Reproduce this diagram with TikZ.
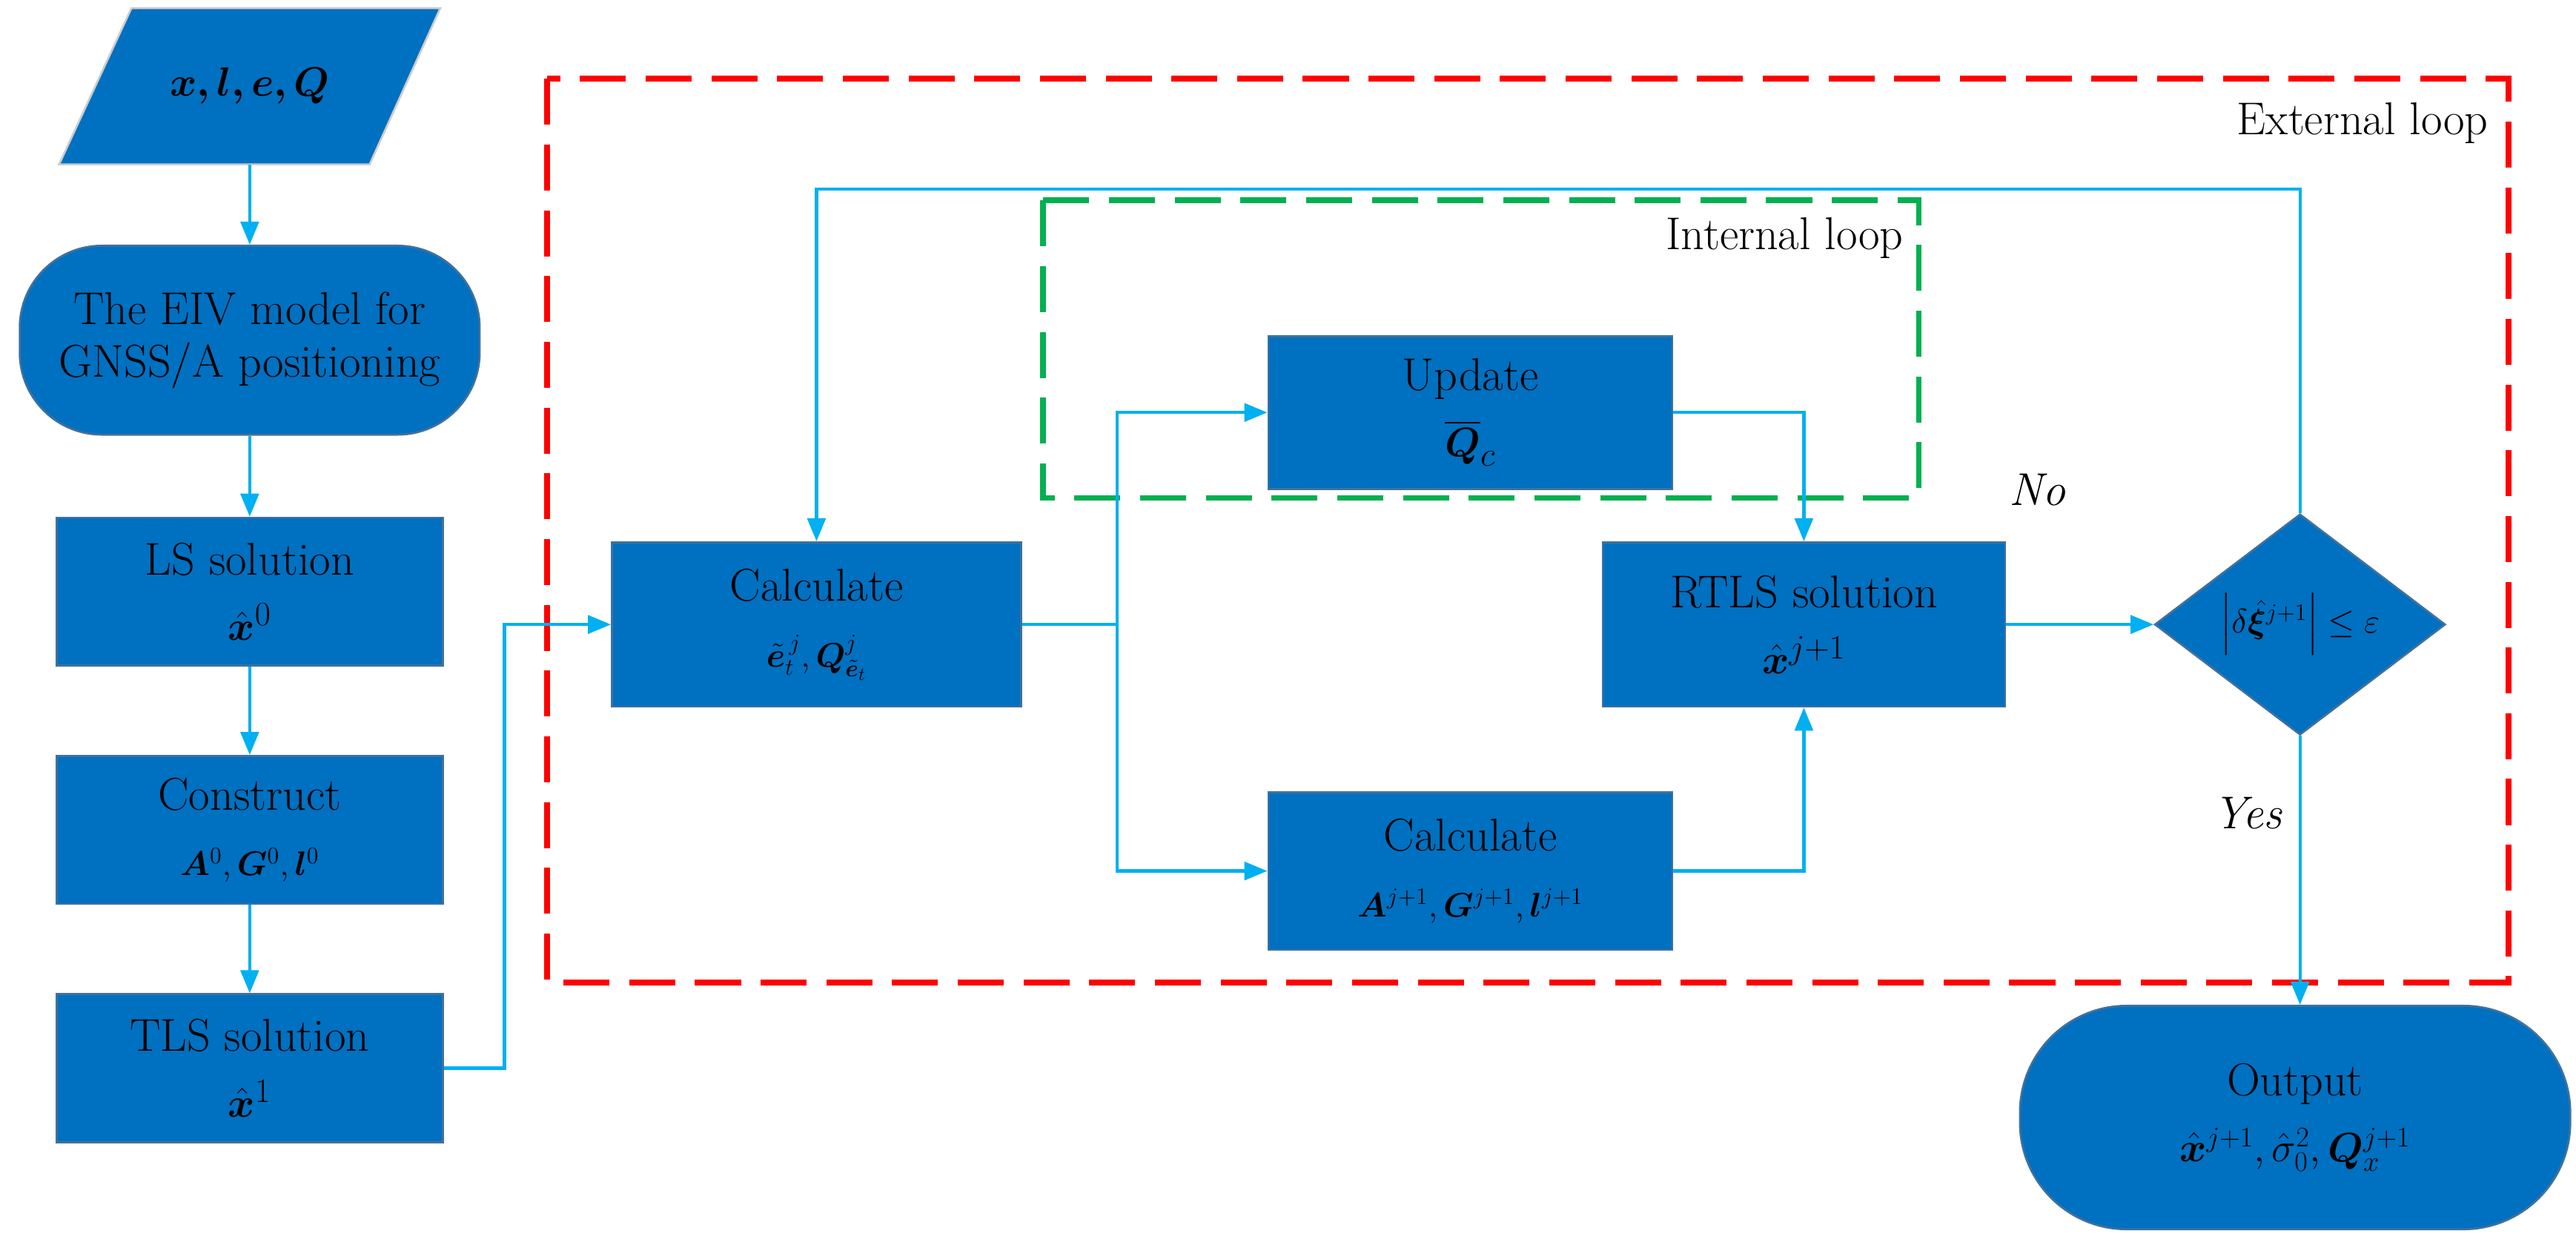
\documentclass[tikz,border=0pt]{standalone}
\usepackage{amsmath,bm}
\usetikzlibrary{shapes.geometric,arrows.meta}
\definecolor{boxblue}{HTML}{0070C0}
\definecolor{boxedge}{HTML}{41719C}
\definecolor{arr}{HTML}{00B0F0}
\definecolor{lgreen}{HTML}{00B050}
\begin{document}
\begin{tikzpicture}[x=1pt,y=-1pt,
  box/.style={draw=boxedge,line width=1.2pt,fill=boxblue,minimum width=248pt,minimum height=94pt,align=center,font=\fontsize{28}{40}\selectfont,inner sep=2pt},
  con/.style={draw=arr,line width=2pt,-{Triangle[length=14pt,width=11pt]}},
  lab/.style={font=\fontsize{28}{32}\selectfont}]
\useasboundingbox (0,0) rectangle (1568,759);
\fill[white] (0,0) rectangle (1568,759);
% loops
\draw[red,line width=3.5pt,dash pattern=on 28pt off 12pt] (333,48) rectangle (1527,598);
\draw[lgreen,line width=3.5pt,dash pattern=on 28pt off 12pt] (635,122) rectangle (1168,303);
\node[lab,anchor=east] (ext) at (1518,75) {External loop};
\node[lab,anchor=east] (int) at (1162,145) {Internal loop};
% left column
\fill[boxblue,draw=black!20,line width=1.2pt] (80,5) -- (268,5) -- (225,100) -- (36,100) -- cycle;
\node[font=\fontsize{36}{40}\selectfont] (in) at (152,52) {$\bm{x,l,e,Q}$};
\coordinate (inb) at (152,100);
\node[box,rounded corners=50pt,minimum width=280pt,minimum height=115pt,font=\fontsize{28}{32}\selectfont] (eiv) at (152,207) {The EIV model for\\GNSS/A positioning};
\node[box,minimum width=235pt,minimum height=90pt] (ls) at (152,360) {LS solution\\$\hat{\bm x}^{0}$};
\node[box,minimum width=235pt,minimum height=90pt] (cons) at (152,505) {Construct\\{\fontsize{22}{26}\selectfont$\bm A^{0},\bm G^{0},\bm l^{0}$}};
\node[box,minimum width=235pt,minimum height=90pt] (tls) at (152,650) {TLS solution\\$\hat{\bm x}^{1}$};
% inner
\node[box,minimum width=249pt,minimum height=100pt] (calc) at (497,380) {Calculate\\{\fontsize{22}{26}\selectfont$\tilde{\bm e}_t^{\,j},\bm Q^{j}_{\tilde{\bm e}_t}$}};
\node[box,minimum width=246pt,minimum height=93pt] (upd) at (895,251) {Update\\$\overline{\bm Q}_c$};
\node[box,minimum width=245pt,minimum height=100pt] (rtls) at (1098,380) {RTLS solution\\$\hat{\bm x}^{j+1}$};
\node[box,minimum width=246pt,minimum height=96pt] (calc2) at (895,530) {Calculate\\{\fontsize{22}{26}\selectfont$\bm A^{j+1},\bm G^{j+1},\bm l^{j+1}$}};
\node[diamond,draw=boxedge,line width=1.2pt,fill=boxblue,minimum width=177pt,minimum height=104pt,inner sep=0pt,font=\fontsize{22}{26}\selectfont] (dec) at (1400,380) {$\left|\delta\hat{\bm\xi}^{j+1}\right|\le\varepsilon$};
\node[box,rounded corners=65pt,minimum width=335pt,minimum height=136pt] (out) at (1397,680) {Output\\{\fontsize{24}{28}\selectfont$\hat{\bm x}^{j+1},\hat\sigma_0^2,\bm Q_x^{j+1}$}};
% connectors
\coordinate (j) at (680,380);
\draw[con] (inb) -- (eiv);
\draw[con] (eiv) -- (ls);
\draw[con] (ls) -- (cons);
\draw[con] (cons) -- (tls);
\draw[con] (tls.east) -| (307,380) -- (calc.west);
\draw[draw=arr,line width=2pt] (calc.east) -- (j);
\draw[con] (j) |- (upd.west);
\draw[con] (j) |- (calc2.west);
\draw[con] (upd.east) -| (rtls.north);
\draw[con] (calc2.east) -| (rtls.south);
\draw[con] (rtls.east) -- (dec.west);
\draw[con] (dec.north) -- (1400,115) -| (calc.north);
\draw[con] (dec.south) -- (dec.south |- out.north);
\node[lab,font=\fontsize{28}{32}\selectfont\itshape] (no) at (1240,298) {No};
\node[lab,font=\fontsize{28}{32}\selectfont\itshape] (yes) at (1368,495) {Yes};
\end{tikzpicture}
\end{document}
